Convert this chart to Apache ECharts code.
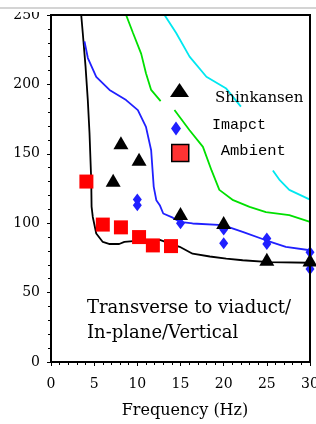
<!DOCTYPE html>
<html>
<head>
<meta charset="utf-8">
<script src="https://cdn.jsdelivr.net/npm/echarts@6/dist/echarts.min.js"></script>
<style>
html,body{margin:0;padding:0;background:#fff;}
#chart{width:316px;height:424px;}
</style>
</head>
<body>
<div id="chart"></div>
<script>
// ---- data ----
var shinkansenFreq = [7.2, 8.1, 10.2, 15, 20, 25, 30];
var shinkansenVal  = [131, 158, 146, 107, 100.5, 74, 73.5];

var impactFreq = [10, 10, 15, 20, 20, 25, 25, 30, 30];
var impactVal  = [117, 113, 100, 95.5, 85.5, 89, 85, 79, 67];

var ambientFreq = [4.1, 6.0, 8.1, 10.2, 11.8, 13.9];
var ambientVal  = [130, 99, 97, 90, 84, 83.5];

var blackFreq = [3.5, 3.68, 4.0, 4.26, 4.46, 4.66, 4.7, 4.84, 5.24, 6.0, 6.8, 7.9, 8.5, 10.2, 12.2, 12.6, 14.9, 16.4, 18.4, 20.3, 22.2, 25.3, 30];
var blackVal  = [250, 237, 213, 189, 165, 131, 112, 104.5, 92.6, 86.5, 85, 85, 86.5, 87.5, 87.7, 88, 83, 78, 76, 74.5, 73.3, 72, 71.5];

var blueFreq = [3.88, 4.27, 5.24, 6.78, 8.7, 10.06, 11.0, 11.6, 11.9, 12.2, 12.6, 13.0, 14.1, 14.9, 16.4, 19.9, 22.2, 24.9, 27.2, 30];
var blueVal  = [231, 219, 205.5, 196, 188.7, 181.5, 169.4, 152.6, 126.2, 116.6, 113, 107, 104, 101, 99.8, 98.6, 93.7, 87.7, 82.9, 80.5];

var greenFreq = [8.7, 9.5, 10.45, 11.0, 11.6, 12.7, 13.5, 14.3, 16.05, 17.6, 18.6, 19.5, 21.1, 23.0, 24.9, 27.6, 30];
var greenVal  = [250, 237, 222, 208, 196, 188, '-', 181.5, 167, 155, 138, 124, 116.6, 111.8, 108, 105.8, 101];

var cyanFreq = [13.15, 14.5, 16.05, 18.0, 20.3, 22.0, 23.8, 25.7, 26.5, 27.6, 30];
var cyanVal  = [250, 237, 220, 205.5, 197, 184, '-', 138, 131, 124, 117];

var xTicks = {min: 0, max: 30, interval: 5};
var yTicks = {min: 0, max: 250, interval: 50};

function pairs(xs, ys) {
  return xs.map(function (x, i) { return [x, ys[i]]; });
}

var SERIF = '"DejaVu Serif", serif';
var MONO = '"Liberation Mono", monospace';

var chart = echarts.init(document.getElementById('chart'));
var lineBase = {type: 'line', showSymbol: false, symbol: 'none', silent: true, connectNulls: false, z: 2};

var tickCommon = {
  axisTick: {show: true, inside: false, length: 4, lineStyle: {color: '#000', width: 1}},
  minorTick: {show: true, splitNumber: 5, length: 3, lineStyle: {color: '#000', width: 1}},
  splitLine: {show: false}
};

// frame along the top and right plot edges, placed by data coordinates
var frameMarkLine = {
  silent: true, symbol: ['none', 'none'], label: {show: false}, animation: false,
  lineStyle: {color: '#000', width: 2, type: 'solid', opacity: 1},
  emphasis: {disabled: true},
  data: [
    [{coord: [xTicks.min, yTicks.max]}, {coord: [xTicks.max, yTicks.max]}],
    [{coord: [xTicks.max, yTicks.max]}, {coord: [xTicks.max, yTicks.min]}]
  ]
};

chart.setOption({
  animation: false,
  backgroundColor: '#fff',
  grid: {left: 51, right: 6, top: 15, bottom: 62, containLabel: false, outerBoundsMode: 'none',
    show: true, borderColor: '#000', borderWidth: 2, backgroundColor: 'rgba(255,255,255,0)'},
  xAxis: Object.assign({
    type: 'value', min: xTicks.min, max: xTicks.max, interval: xTicks.interval, position: 'bottom',
    name: 'Frequency (Hz)', nameLocation: 'middle', nameGap: 41,
    nameTextStyle: {fontFamily: SERIF, fontSize: 16, color: '#000', padding: [0, 0, 0, 9]},
    axisLine: {show: true, onZero: false, lineStyle: {color: '#000', width: 2}},
    axisLabel: {fontFamily: SERIF, fontSize: 14, color: '#000', margin: 15}
  }, tickCommon),
  yAxis: Object.assign({
    type: 'value', min: yTicks.min, max: yTicks.max, interval: yTicks.interval, position: 'left',
    axisLine: {show: true, onZero: false, lineStyle: {color: '#000', width: 2}},
    axisLabel: {fontFamily: SERIF, fontSize: 14, color: '#000', margin: 11}
  }, tickCommon),
  legend: [
    {
      left: 170, top: 83, orient: 'vertical', selectedMode: false, padding: 0,
      itemWidth: 19, itemHeight: 14,
      data: [{name: 'Shinkansen', icon: 'triangle'}],
      formatter: '{t|{name}}',
      textStyle: {color: '#000', padding: [0, 0, 0, 21],
        rich: {t: {fontFamily: SERIF, fontSize: 15, color: '#000', padding: [16, 0, 0, 0]}}}
    },
    {
      left: 171, top: 118, orient: 'vertical', selectedMode: false, padding: 0,
      itemWidth: 10, itemHeight: 14,
      data: [{name: 'Imapct', icon: 'diamond'}],
      formatter: '{t|{name}}',
      textStyle: {color: '#000', padding: [0, 0, 0, 26],
        rich: {t: {fontFamily: MONO, fontSize: 15, color: '#000', padding: [0, 0, 6, 0]}}}
    },
    {
      left: 171, top: 143, orient: 'vertical', selectedMode: false, padding: 0,
      itemWidth: 17, itemHeight: 17,
      itemStyle: {color: '#ff3333', borderColor: '#000', borderWidth: 1.5},
      data: [{name: 'Ambient', icon: 'rect'}],
      formatter: '{t|{name}}',
      textStyle: {color: '#000', padding: [0, 0, 0, 27],
        rich: {t: {fontFamily: MONO, fontSize: 15.5, color: '#000', padding: [0, 0, 4, 0]}}}
    }
  ],
  graphic: [
    {id: 'mask', type: 'rect', shape: {x: 0, y: 0, width: 316, height: 12}, style: {fill: '#fff'}, z: 100},
    {id: 'rule', type: 'line', shape: {x1: 0, y1: 8, x2: 316, y2: 8}, style: {stroke: '#d4d4d4', lineWidth: 2}, z: 101},
    {id: 'note', type: 'text', left: 87, top: 296, z: 50,
      style: {text: 'Transverse to viaduct/\nIn-plane/Vertical', font: '18px "DejaVu Serif"', lineHeight: 25, fill: '#000'}}
  ],
  series: [
    Object.assign({}, lineBase, {name: 'threshold-black', data: pairs(blackFreq, blackVal), lineStyle: {color: '#000', width: 1.8}}),
    Object.assign({}, lineBase, {name: 'threshold-blue', data: pairs(blueFreq, blueVal), lineStyle: {color: '#2020ff', width: 1.8}}),
    Object.assign({}, lineBase, {name: 'threshold-green', data: pairs(greenFreq, greenVal), lineStyle: {color: '#00e000', width: 1.8}}),
    Object.assign({}, lineBase, {name: 'threshold-cyan', data: pairs(cyanFreq, cyanVal), lineStyle: {color: '#00e8f0', width: 1.8}}),
    {name: 'Ambient', type: 'scatter', symbol: 'rect', symbolSize: 14, clip: false, z: 3,
      itemStyle: {color: '#ff0000', opacity: 1}, data: pairs(ambientFreq, ambientVal)},
    {name: 'Imapct', type: 'scatter', symbol: 'diamond', symbolSize: [9, 12], clip: false, z: 4,
      itemStyle: {color: '#2020ff', opacity: 1}, data: pairs(impactFreq, impactVal)},
    {name: 'Shinkansen', type: 'scatter', symbol: 'triangle', symbolSize: [15, 13], clip: false, z: 5,
      itemStyle: {color: '#000', opacity: 1}, data: pairs(shinkansenFreq, shinkansenVal),
      markLine: frameMarkLine}
  ]
});

// plot frame drawn again from the axes' own pixel conversion, on top of everything
var tl = chart.convertToPixel({gridIndex: 0}, [xTicks.min, yTicks.max]);
var br = chart.convertToPixel({gridIndex: 0}, [xTicks.max, yTicks.min]);
chart.setOption({
  graphic: [
    {id: 'frame', type: 'polyline', z: 200, silent: true,
      shape: {points: [[tl[0], br[1]], [tl[0], tl[1]], [br[0], tl[1]], [br[0], br[1]]]},
      style: {stroke: '#000', lineWidth: 2, fill: null}}
  ]
});
</script>
</body>
</html>
